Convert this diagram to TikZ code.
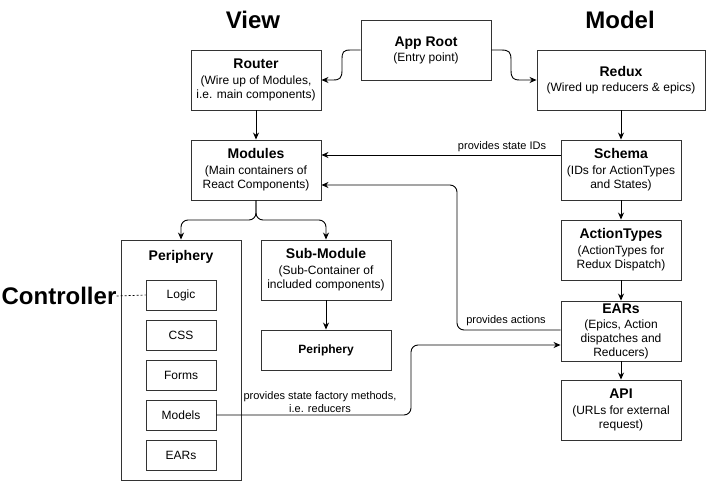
\documentclass[tikz,border=0pt]{standalone}
\usepackage{fontspec}
\setmainfont{Liberation Sans}
\usetikzlibrary{arrows.meta,calc}
\newcommand\boxtitle[1]{{\bfseries\fontsize{14}{16}\selectfont #1}}
\begin{document}
\begin{tikzpicture}[x=1pt,y=-1pt,
  box/.style={draw=black!80, line width=0.9pt, fill=white, align=center, inner sep=1pt,
    font=\fontsize{12}{14}\selectfont},
  arr/.style={-{Stealth[length=7pt,width=6pt]}, line width=0.9pt},
  lbl/.style={font=\fontsize{11}{13}\selectfont, inner sep=1pt, align=center},
  head/.style={font=\bfseries\fontsize{24}{28}\selectfont, inner sep=0pt}]
\useasboundingbox (0,0) rectangle (706,481);

% headings
\node[head] (view) at (253,20) {View};
\node[head] (model) at (620,20) {Model};
\node[head] (controller) at (59,296) {Controller};

% top row
\node[box, minimum width=130pt, minimum height=60pt] (approot) at (426,50) {\boxtitle{App Root}\\[1pt](Entry point)};
\node[box, minimum width=130pt, minimum height=60pt] (router) at (256,80) {\boxtitle{Router}\\[2pt](Wire up of Modules,\\i.e. main components)};
\node[box, minimum width=168pt, minimum height=60pt] (redux) at (621,80) {\boxtitle{Redux}\\[1pt](Wired up reducers \& epics)};

% second row
\node[box, minimum width=130pt, minimum height=60pt] (modules) at (256,170) {\boxtitle{Modules}\\[2pt](Main containers of\\React Components)};
\node[box, minimum width=120pt, minimum height=60pt] (schema) at (621,170) {\boxtitle{Schema}\\[2pt](IDs for ActionTypes\\and States)};
\node[box, minimum width=120pt, minimum height=60pt] (actiontypes) at (621,250) {\boxtitle{ActionTypes}\\[2pt](ActionTypes for\\Redux Dispatch)};
\node[box, minimum width=120pt, minimum height=60pt] (ears) at (621,331) {\boxtitle{EARs}\\[1pt](Epics, Action\\dispatches and\\Reducers)};
\node[box, minimum width=120pt, minimum height=60pt] (api) at (621,410) {\boxtitle{API}\\[2pt](URLs for external\\request)};

% periphery container
\node[box, minimum width=120pt, minimum height=240pt] (periph) at (181,360) {};
\node[font=\bfseries\fontsize{14}{16}\selectfont] (periphtitle) at (181,257) {Periphery};
\node[box, minimum width=70pt, minimum height=30pt] (logic) at (181,295) {Logic};
\node[box, minimum width=70pt, minimum height=30pt] (css) at (181,335) {CSS};
\node[box, minimum width=70pt, minimum height=30pt] (forms) at (181,375) {Forms};
\node[box, minimum width=70pt, minimum height=30pt] (models) at (181,415) {Models};
\node[box, minimum width=70pt, minimum height=30pt] (pears) at (181,455) {EARs};

% sub-module
\node[box, minimum width=130pt, minimum height=60pt] (submodule) at (326,270) {\boxtitle{Sub-Module}\\[2pt](Sub-Container of\\included components)};
\node[box, minimum width=130pt, minimum height=40pt, font=\bfseries\fontsize{12}{14}\selectfont] (subperiph) at (326,350) {Periphery};

% connectors
\draw[arr] (approot.west) -- (351,50) .. controls (343,50) and (342,52) .. (342,60) -- (342,70)
  .. controls (342,78) and (340,80) .. (333,80) -- (router.east);
\draw[arr] (approot.east) -- (501,50) .. controls (509,50) and (511,52) .. (511,60) -- (511,70)
  .. controls (511,78) and (513,80) .. (520,80) -- (redux.west);
\draw[arr] (router.south) -- (modules.north);
\draw[arr] (redux.south) -- (schema.north);
\draw[arr] (schema.south) -- (actiontypes.north);
\draw[arr] (actiontypes.south) -- (ears.north);
\draw[arr] (ears.south) -- (api.north);
\draw[arr] ([yshift=15pt]schema.west) -- ([yshift=15pt]modules.east);
\node[lbl] (lblids) at (502,147) {provides state IDs};
\draw[arr, rounded corners=7pt] (modules.south) -- (256,220) -| (periph.north);
\draw[arr, rounded corners=7pt] (modules.south) -- (256,220) -| (submodule.north);
\draw[arr] (submodule.south) -- (subperiph.north);
\draw[arr, rounded corners=7pt] ([yshift=1pt]ears.west) -| (457,185) -- ([yshift=-15pt]modules.east);
\node[lbl] (lblact) at (506,321) {provides actions};
\draw[arr, rounded corners=7pt] (models.east) -| (411,345) -- ([yshift=-14pt]ears.west);
\node[lbl] (lblfac) at (320,402) {provides state factory methods,\\i.e. reducers};
\draw[line width=0.7pt, dash pattern=on 2pt off 2pt] (controller.east) -- (logic.west);
\end{tikzpicture}
\end{document}
